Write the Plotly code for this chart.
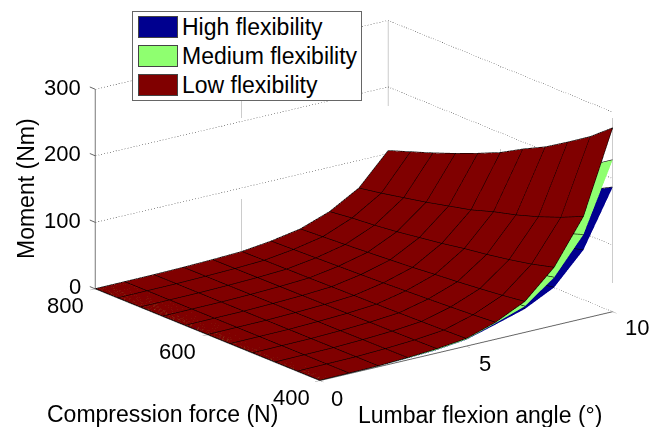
import plotly.graph_objects as go

angle = [0, 1, 2, 3, 4, 5, 6, 7, 8, 9, 10]
force = [400, 440, 480, 520, 560, 600, 640, 680, 720, 760, 800]

# rows = angle, columns = force
low = [
    [0]*11,
    [.5, .45, .41, .37, .34, .31, .28, .26, .23, .21, .19],
    [1, .9, .82, .75, .69, .62, .56, .51, .46, .42, .38],
    [3, 2.7, 2.5, 2.2, 2.1, 1.8, 1.7, 1.5, 1.4, 1.3, 1.1],
    [6, 5.4, 4.9, 4.5, 4.1, 3.7, 3.4, 3.1, 2.8, 2.5, 2.3],
    [11, 9.9, 9, 8.2, 7.5, 6.8, 6.2, 5.6, 5.1, 4.6, 4.1],
    [25, 22.5, 20.5, 18.7, 17.1, 15.4, 14, 12.8, 11.6, 10.5, 9.4],
    [46, 41.4, 37.7, 34.3, 31.5, 28.3, 25.8, 23.5, 21.3, 19.3, 17.3],
    [87, 78, 71, 65, 60, 54, 49, 44, 40, 37, 33],
    [153, 138, 125, 114, 105, 94, 86, 78, 71, 64, 58],
    [276, 249, 227, 206, 189, 170, 155, 141, 128, 116, 104],
]
medium = [
    [0]*11,
    [.42, .38, .34, .31, .28, .26, .23, .22, .19, .17, .16],
    [.83, .75, .68, .62, .57, .51, .46, .42, .38, .35, .32],
    [2.5, 2.2, 2.1, 1.8, 1.7, 1.5, 1.4, 1.2, 1.2, 1.1, .9],
    [5, 4.5, 4.1, 3.7, 3.4, 3.1, 2.8, 2.6, 2.3, 2.1, 1.9],
    [10, 9, 8.1, 7.4, 6.8, 6.1, 5.6, 5, 4.6, 4.1, 3.7],
    [24, 21.5, 19.5, 17.8, 16.3, 14.6, 13.3, 12.2, 11, 10, 8.9],
    [39, 35, 32, 29, 27, 24, 22, 20, 18, 16.4, 14.7],
    [72, 65, 59, 54, 50, 45, 41, 37, 33, 31, 27],
    [126, 114, 103, 94, 87, 78, 71, 64, 59, 53, 48],
    [228, 206, 187, 170, 156, 141, 128, 117, 106, 96, 86],
]
high = [
    [0]*11,
    [.38, .34, .31, .28, .25, .23, .21, .2, .17, .16, .14],
    [.75, .68, .62, .56, .52, .47, .42, .38, .35, .32, .29],
    [2.2, 2, 1.9, 1.6, 1.5, 1.3, 1.2, 1.1, 1, .9, .8],
    [4.5, 4, 3.7, 3.3, 3, 2.8, 2.5, 2.3, 2.1, 1.9, 1.7],
    [9.5, 8.5, 7.7, 7, 6.4, 5.8, 5.3, 4.8, 4.3, 3.9, 3.5],
    [22, 19.8, 18, 16.5, 15, 13.6, 12.3, 11.3, 10.2, 9.2, 8.3],
    [35, 31, 28.5, 26, 24, 21.5, 19.6, 17.9, 16.2, 14.7, 13.1],
    [57, 51, 47, 43, 40, 36, 32, 29, 26, 24, 22],
    [103, 93, 84, 77, 71, 63, 58, 53, 48, 43, 39],
    [187, 169, 153, 139, 128, 115, 105, 95, 87, 78, 70],
]
names = ["High flexibility", "Medium flexibility", "Low flexibility"]
colors = ["#00008F", "#8FFF70", "#800000"]
grids = [high, medium, low]

angle_ticks = [0, 5, 10]
force_ticks = [400, 600, 800]
moment_ticks = [0, 100, 200, 300]

FONT = "Liberation Sans"
# the page sits 8px inside the window, so the figure is 8px smaller each way
W, H = 652, 419
def px(x): return (x - 8) / W
def py(y): return 1 - (y - 8) / H

fig = go.Figure()

LIFT = 0.5  # keeps the mesh lines just above their sheet
def mesh_line(xs, ys, zs):
    fig.add_trace(go.Scatter3d(x=xs, y=ys, z=[v + LIFT for v in zs], mode="lines", showlegend=False,
                               hoverinfo="skip", line=dict(color="black", width=1.2)))

for name, z, color in zip(names, grids, colors):
    is_top = name == names[-1]
    fig.add_trace(go.Surface(
        x=angle, y=force, z=[[r[j] for r in z] for j in range(len(force))],
        name=name, showlegend=False, showscale=False, hoverinfo="skip",
        colorscale=[[0, color], [1, color]],
        lighting=dict(ambient=1, diffuse=0, specular=0, roughness=1, fresnel=0),
        contours=dict(x=dict(show=False, highlight=False), y=dict(show=False, highlight=False),
                      z=dict(show=False, highlight=False)),
    ))
    # only the top sheet carries the full mesh: the lower two are hidden except near 10 degrees
    for i, a in enumerate(angle):
        if is_top or a >= 7:
            mesh_line([a]*len(force), force, z[i])
    if is_top:
        for j, f in enumerate(force):
            mesh_line(angle, [f]*len(angle), [r[j] for r in z])

def dotted(xs, ys, zs):
    fig.add_trace(go.Scatter3d(x=xs, y=ys, z=zs, mode="lines", showlegend=False,
                               hoverinfo="skip",
                               line=dict(color="#333333", width=1, dash="dot")))

for m in moment_ticks:
    dotted([angle_ticks[0], angle_ticks[-1], angle_ticks[-1]],
           [force_ticks[-1], force_ticks[-1], force_ticks[0]], [m, m, m])
for a in angle_ticks[1:]:
    dotted([a, a], [force_ticks[-1]]*2, [moment_ticks[0], moment_ticks[-1]])
for f in force_ticks[1:]:
    dotted([angle_ticks[-1]]*2, [f, f], [moment_ticks[0], moment_ticks[-1]])
dotted([angle_ticks[-1]]*2, [force_ticks[0]]*2, [moment_ticks[0], moment_ticks[-1]])

# the vertical axis on the left corner
fig.add_trace(go.Scatter3d(x=[angle_ticks[0]]*2, y=[force_ticks[-1]]*2,
                           z=[moment_ticks[0], moment_ticks[-1]], mode="lines", showlegend=False,
                           hoverinfo="skip", line=dict(color="#777777", width=2)))

def axis(rng, ticks, native=True):
    return dict(range=rng, tickvals=ticks, showticklabels=False, title=dict(text=""),
                showgrid=False, zeroline=False, showbackground=False, showspikes=False,
                showline=native, linecolor="#666666", linewidth=2,
                ticks="outside" if native else "", ticklen=6,
                tickcolor="#666666", tickwidth=1, autorange=False)

TICKFONT = dict(family=FONT, size=22, color="black")
scene_notes = []
for m in moment_ticks:
    scene_notes.append(dict(x=angle_ticks[0], y=force_ticks[-1], z=m, text=str(m), showarrow=False,
                            xanchor="right", yanchor="middle", xshift=-12, yshift=2, font=TICKFONT))
    scene_notes.append(dict(x=angle_ticks[0], y=force_ticks[-1], z=m, text="", showarrow=True,
                            arrowhead=0, arrowwidth=1, arrowcolor="#666666", ax=-7, ay=-3, standoff=0))
for f, dx in zip(force_ticks, [-28, -30, -30]):
    scene_notes.append(dict(x=angle_ticks[0], y=f, z=0, text=str(f), showarrow=False,
                            xanchor="center", yanchor="middle", xshift=dx, yshift=-17, font=TICKFONT))
for a, dx, dy in zip(angle_ticks, [17, 19, 24], [-18, -17, -16]):
    scene_notes.append(dict(x=a, y=force_ticks[0], z=0, text=str(a), showarrow=False,
                            xanchor="center", yanchor="middle", xshift=dx, yshift=dy, font=TICKFONT))

def box(x0, y0, x1, y1, fill, border, bw=1):
    return dict(text=" ", x=px(x0), y=py(y0), xref="paper", yref="paper", xanchor="left", yanchor="top",
                width=x1-x0-2*bw, height=y1-y0-2*bw, bgcolor=fill, bordercolor=border, borderwidth=bw,
                borderpad=0, showarrow=False, font=dict(size=1))

LABEL = dict(family=FONT, size=23, color="black")
notes = [box(132, 11, 362, 101, "white", "#666666")]
for (y0, y1, name, color) in zip([16, 45, 74], [38, 67, 96], names, colors):
    notes.append(box(138, y0, 178, y1, color, "#444444"))
    notes.append(dict(text=name, x=px(180), y=py((y0+y1)/2), xref="paper", yref="paper",
                      xanchor="left", yanchor="middle", showarrow=False, font=LABEL))
notes += [
    dict(text="Moment (Nm)", x=px(26), y=py(189), xref="paper", yref="paper", textangle=-90,
         xanchor="center", yanchor="middle", showarrow=False, font=LABEL),
    dict(text="Compression force (N)", x=px(162), y=py(414), xref="paper", yref="paper",
         xanchor="center", yanchor="middle", showarrow=False, font=LABEL),
    dict(text="Lumbar flexion angle (°)", x=px(480), y=py(415), xref="paper", yref="paper",
         xanchor="center", yanchor="middle", showarrow=False, font=LABEL),
]

SCALE = 1.91
fig.update_layout(
    width=W, height=H, autosize=False,
    margin=dict(l=0, r=0, t=0, b=0),
    paper_bgcolor="white",
    font=dict(family=FONT, color="black"),
    showlegend=False,
    scene=dict(
        domain=dict(x=[40/W, 1], y=[34/H, 1]),
        xaxis=axis([0, 10], angle_ticks),
        yaxis=axis([400, 800], force_ticks),
        zaxis=axis([0, 300], moment_ticks, native=False),
        aspectmode="manual",
        aspectratio=dict(x=1.0*SCALE, y=1.01*SCALE, z=0.571*SCALE),
        bgcolor="rgba(0,0,0,0)",
        annotations=scene_notes,
        camera=dict(projection=dict(type="orthographic"),
                    eye=dict(x=-0.575*2, y=-0.7575*2, z=0.31*2),
                    center=dict(x=0, y=0, z=0), up=dict(x=0, y=0, z=1)),
    ),
    annotations=notes,
)
fig.write_html("out.html")
